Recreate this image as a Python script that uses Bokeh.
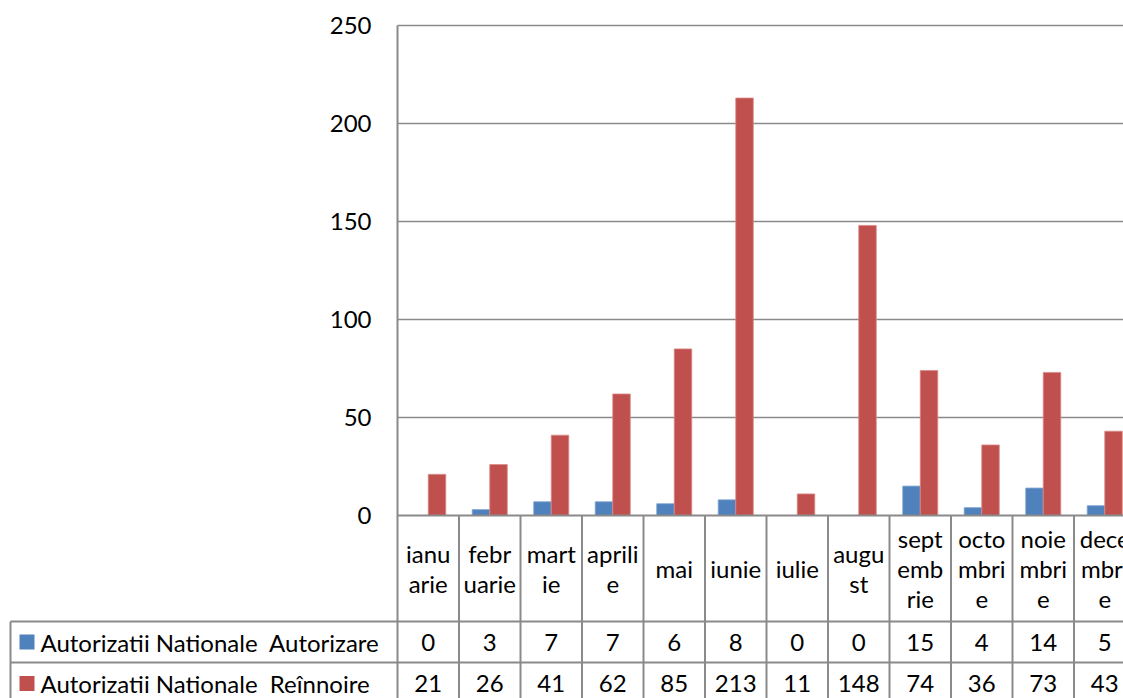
from bokeh.plotting import figure
from bokeh.models import Range1d
from bokeh.core.properties import value
from bokeh.embed import file_html
from bokeh.resources import INLINE

# ---- data ----
months = ["ianuarie", "februarie", "martie", "aprilie", "mai", "iunie",
          "iulie", "august", "septembrie", "octombrie", "noiembrie", "decembrie"]
month_labels = ["ianu\narie", "febr\nuarie", "mart\nie", "aprili\ne", "mai", "iunie",
                "iulie", "augu\nst", "sept\nemb\nrie", "octo\nmbri\ne", "noie\nmbri\ne", "dece\nmbri\ne"]
series_names = ["Autorizatii Nationale  Autorizare", "Autorizatii Nationale  Reînnoire"]
autorizare = [0, 3, 7, 7, 6, 8, 0, 0, 15, 4, 14, 5]
reinnoire = [21, 26, 41, 62, 85, 213, 11, 148, 74, 36, 73, 43]
y_ticks = [0, 50, 100, 150, 200, 250]

# ---- styling / layout ----
W, H = 1123, 698
CAT_PX = 61.5          # pixels per category
UNIT_PX = 1.96         # pixels per value unit
AX_PX, ZERO_PX = 397, 515
BLUE, RED = "#4F81BD", "#C0504D"
GRID = "#8a8a8a"
FONT = "Lato"
FS = "24px"

x0 = -AX_PX / CAT_PX
x1 = (W - AX_PX) / CAT_PX
y0 = -(H - ZERO_PX) / UNIT_PX
y1 = ZERO_PX / UNIT_PX

p = figure(width=W, height=H, output_backend="svg", toolbar_location=None,
           x_range=Range1d(x0, x1), y_range=Range1d(y0, y1),
           x_axis_type=None, y_axis_type=None,
           min_border=0, min_border_left=0, min_border_right=0,
           min_border_top=0, min_border_bottom=0)
p.outline_line_color = None
p.xgrid.visible = False
p.ygrid.visible = False
p.background_fill_color = "white"
p.border_fill_color = "white"

n = len(months)
cat_row_bottom = -(621 - ZERO_PX) / UNIT_PX
row1_bottom = -(662 - ZERO_PX) / UNIT_PX
row2_bottom = -(704 - ZERO_PX) / UNIT_PX
legend_left = (10 - AX_PX) / CAT_PX

# gridlines (excluding 0)
gt = [t for t in y_ticks if t != 0]
p.segment(x0=[0] * len(gt), y0=gt, x1=[x1 + 1] * len(gt), y1=gt,
          line_color=GRID, line_width=1.6)

# bars
w = 0.285
centers = [i + 0.5 for i in range(n)]
p.vbar(x=[c - w / 2 for c in centers], top=autorizare, bottom=0, width=w,
       fill_color=BLUE, line_color="#7fa3d1", line_width=0.8)
p.vbar(x=[c + w / 2 for c in centers], top=reinnoire, bottom=0, width=w,
       fill_color=RED, line_color="#d98a88", line_width=0.8)

# axis line, zero line, table lines
p.segment(x0=[0], y0=[y_ticks[-1]], x1=[0], y1=[row2_bottom], line_color=GRID, line_width=2)
p.segment(x0=[0], y0=[0], x1=[x1 + 1], y1=[0], line_color=GRID, line_width=2)
p.segment(x0=list(range(1, n + 1)), y0=[0] * n, x1=list(range(1, n + 1)), y1=[row2_bottom] * n,
          line_color=GRID, line_width=2)
p.segment(x0=[legend_left] * 2, y0=[cat_row_bottom, row1_bottom],
          x1=[x1 + 1] * 2, y1=[cat_row_bottom, row1_bottom], line_color=GRID, line_width=2)
p.segment(x0=[legend_left], y0=[cat_row_bottom], x1=[legend_left], y1=[row2_bottom],
          line_color=GRID, line_width=2)

# y tick labels
p.text(x=[(371 - AX_PX) / CAT_PX] * len(y_ticks), y=y_ticks, text=[str(t) for t in y_ticks],
       text_align="right", text_baseline="middle", text_font=value(FONT),
       text_font_size=FS, text_color="black")

# category labels
p.text(x=centers, y=[cat_row_bottom / 2] * n, text=month_labels,
       text_align="center", text_baseline="middle", text_font=value(FONT),
       text_font_size=FS, text_color="black", text_line_height=1.02)

# table values
r1y = (cat_row_bottom + row1_bottom) / 2
r2y = (row1_bottom + row2_bottom) / 2
p.text(x=centers, y=[r1y] * n, text=[str(v) for v in autorizare],
       text_align="center", text_baseline="middle", text_font=value(FONT),
       text_font_size=FS, text_color="black")
p.text(x=centers, y=[r2y] * n, text=[str(v) for v in reinnoire],
       text_align="center", text_baseline="middle", text_font=value(FONT),
       text_font_size=FS, text_color="black")

# legend keys and series names (keep the double space visible)
shown_names = [s.replace("  ", " \u00a0") for s in series_names]
p.scatter(x=[(26.5 - AX_PX) / CAT_PX] * 2, y=[r1y, r2y], marker="square", size=15,
          fill_color=[BLUE, RED], line_color=None)
p.text(x=[(40 - AX_PX) / CAT_PX] * 2, y=[r1y, r2y], text=shown_names,
       text_align="left", text_baseline="middle", text_font=value(FONT),
       text_font_size=FS, text_color="black")

open("out.html", "w").write(file_html(p, INLINE))
